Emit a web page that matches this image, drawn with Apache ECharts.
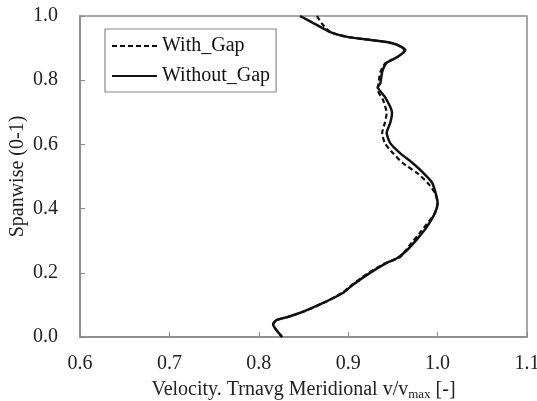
<!DOCTYPE html>
<html>
<head>
<meta charset="utf-8">
<script src="https://cdn.jsdelivr.net/npm/echarts@6/dist/echarts.min.js"></script>
<style>html,body{margin:0;padding:0;background:#fff;}#c{width:537px;height:401px;}</style>
</head>
<body>
<div id="c"></div>
<script>
// Without_Gap (solid)
var spanSolid = [1.0, 0.978, 0.950, 0.935, 0.928, 0.919, 0.910, 0.894, 0.872, 0.854, 0.826, 0.791, 0.779, 0.748, 0.717, 0.698, 0.667, 0.636, 0.604, 0.573, 0.542, 0.511, 0.480, 0.436, 0.417, 0.386, 0.343, 0.308, 0.271, 0.246, 0.231, 0.199, 0.162, 0.137, 0.106, 0.078, 0.062, 0.053, 0.040, 0.028, 0.0];
var velSolid  = [0.846, 0.861, 0.880, 0.899, 0.917, 0.943, 0.955, 0.964, 0.955, 0.943, 0.938, 0.936, 0.933, 0.941, 0.947, 0.949, 0.947, 0.943, 0.947, 0.958, 0.972, 0.984, 0.994, 0.999, 1.000, 0.997, 0.988, 0.978, 0.966, 0.955, 0.943, 0.924, 0.905, 0.894, 0.872, 0.849, 0.832, 0.820, 0.816, 0.818, 0.826];
// With_Gap (dashed)
var spanDashed = [1.0, 0.975, 0.950, 0.935, 0.928, 0.919, 0.910, 0.894, 0.872, 0.854, 0.826, 0.791, 0.769, 0.738, 0.698, 0.667, 0.636, 0.604, 0.573, 0.542, 0.511, 0.480, 0.449, 0.417, 0.386, 0.324, 0.287, 0.249, 0.228, 0.197, 0.162, 0.137, 0.106, 0.078, 0.062, 0.053, 0.040, 0.028, 0.0];
var velDashed  = [0.865, 0.871, 0.880, 0.899, 0.917, 0.943, 0.955, 0.963, 0.955, 0.942, 0.936, 0.934, 0.933, 0.939, 0.943, 0.941, 0.938, 0.941, 0.950, 0.961, 0.977, 0.989, 0.997, 1.000, 0.997, 0.980, 0.969, 0.958, 0.940, 0.921, 0.904, 0.893, 0.872, 0.849, 0.832, 0.820, 0.816, 0.818, 0.826];
var xTicks = [0.6, 0.7, 0.8, 0.9, 1.0, 1.1];
var yTicks = [0.0, 0.2, 0.4, 0.6, 0.8, 1.0];
var seriesNames = ['With_Gap', 'Without_Gap'];

function pairs(v, s) { return v.map(function (x, i) { return [x, s[i]]; }); }

var font = 'Liberation Serif';
var chart = echarts.init(document.getElementById('c'), null, {renderer: 'canvas'});
chart.setOption({
  animation: false,
  backgroundColor: '#fff',
  textStyle: {fontFamily: font},
  grid: {left: 80, right: 10, top: 16, bottom: 64, containLabel: false, outerBoundsMode: 'none',
         show: true, borderColor: '#8a8a8a', borderWidth: 1.5, backgroundColor: 'transparent'},
  legend: {
    orient: 'vertical', left: 105, top: 29,
    data: seriesNames,
    itemWidth: 45, itemHeight: 10, itemGap: 10,
    padding: [7, 6, 6, 6],
    borderColor: '#8a8a8a', borderWidth: 1.2,
    itemStyle: {opacity: 0},
    textStyle: {fontFamily: font, fontSize: 20, color: '#111'}
  },
  xAxis: {
    type: 'value', min: xTicks[0], max: xTicks[xTicks.length - 1], interval: 0.1,
    name: 'Velocity. Trnavg Meridional v/v{sub|max} [-]',
    nameLocation: 'middle', nameGap: 42, nameMoveOverlap: false,
    nameTextStyle: {fontFamily: font, fontSize: 20, color: '#222', rich: {sub: {fontFamily: font, fontSize: 13, color: '#222', verticalAlign: 'bottom', padding: [9, 0, 0, 0]}}},
    axisLine: {show: true, lineStyle: {color: '#8a8a8a', width: 1.5}},
    axisTick: {show: true, inside: true, length: 5, lineStyle: {color: '#8a8a8a'}},
    axisLabel: {fontFamily: font, fontSize: 20, color: '#222', margin: 17, formatter: function (v) { return v.toFixed(1); }},
    splitLine: {show: false}
  },
  yAxis: {
    type: 'value', min: yTicks[0], max: yTicks[yTicks.length - 1], interval: 0.2,
    name: 'Spanwise (0-1)', nameLocation: 'middle', nameGap: 52, nameRotate: 90, nameMoveOverlap: false,
    nameTextStyle: {fontFamily: font, fontSize: 20, color: '#222'},
    axisLine: {show: true, lineStyle: {color: '#8a8a8a', width: 1.5}},
    axisTick: {show: true, inside: true, length: 5, lineStyle: {color: '#8a8a8a'}},
    axisLabel: {fontFamily: font, fontSize: 20, color: '#222', margin: 22, formatter: function (v) { return v.toFixed(1); }},
    splitLine: {show: false}
  },
  series: [
    {name: seriesNames[0], type: 'line', data: pairs(velDashed, spanDashed), showSymbol: false, symbol: 'none', smooth: 0.2,
     lineStyle: {color: '#111', width: 2.2, type: [5, 3]}, itemStyle: {color: '#111'}, z: 3},
    {name: seriesNames[1], type: 'line', data: pairs(velSolid, spanSolid), showSymbol: false, symbol: 'none', smooth: 0.2,
     lineStyle: {color: '#111', width: 2.5, type: 'solid'}, itemStyle: {color: '#111'}, z: 2}
  ]
});
</script>
</body>
</html>
